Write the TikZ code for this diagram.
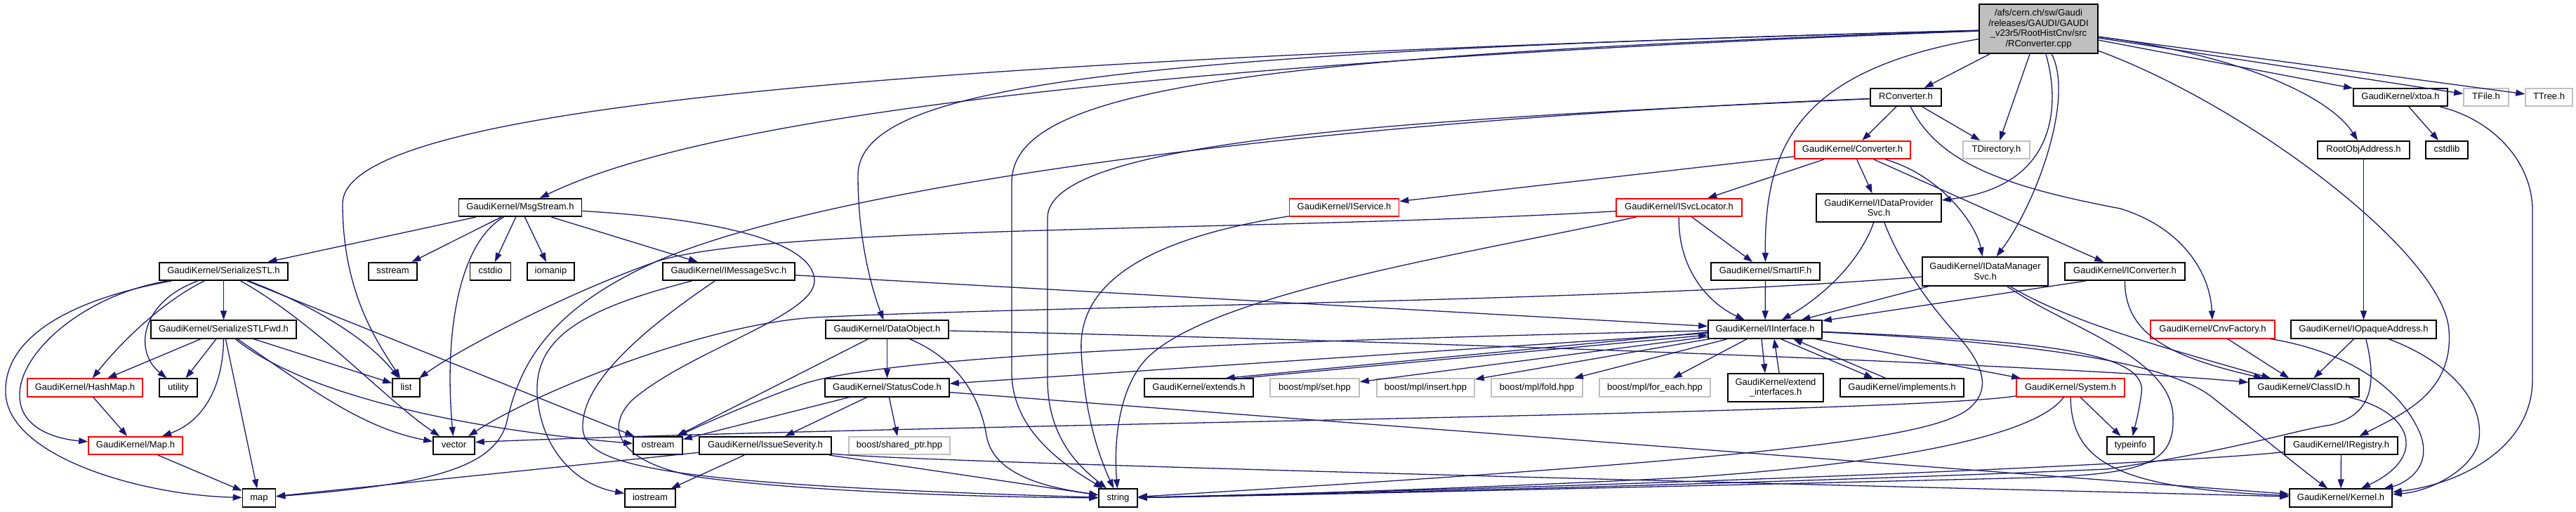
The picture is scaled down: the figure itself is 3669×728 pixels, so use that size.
\documentclass[tikz,border=0pt]{standalone}
\usepackage{fontspec}
\setmainfont{Liberation Sans}
\usetikzlibrary{arrows.meta}
\definecolor{edgecol}{RGB}{25,25,112}
\definecolor{gbord}{RGB}{191,191,191}
\definecolor{topfill}{RGB}{191,191,191}
\newcommand\nfs{\fontsize{13pt}{14.5pt}\selectfont}
\tikzset{
  base/.style={draw=black, line width=1.6pt, fill=white, inner sep=0pt, font=\nfs, text=black},
  nd/.style={base, minimum height=25.5pt, text height=9.4pt, text depth=3pt},
  ndm/.style={base, align=center},
  rd/.style={nd, draw=red},
  gd/.style={nd, draw=gbord},
  wd/.style={minimum width=#1pt},
  edg/.style={draw=edgecol, line width=1.3pt, -{Triangle[length=13pt,width=9pt]}},
}
\begin{document}
\begin{tikzpicture}[x=1pt,y=-1pt]
\useasboundingbox (0,0) rectangle (3669,728);
% nodes
\node[ndm,wd=169,minimum height=70pt,fill=topfill] (T) at (2903.5,41) {/afs/cern.ch/sw/Gaudi\\/releases/GAUDI/GAUDI\\\_v23r5/RootHistCnv/src\\/RConverter.cpp};
\node[nd,wd=101] (RCh) at (2714.5,138.5) {RConverter.h};
\node[nd,wd=134] (xtoa) at (3419,138.5) {GaudiKernel/xtoa.h};
\node[gd,wd=64] (TFile) at (3541,138.5) {TFile.h};
\node[gd,wd=67] (TTree) at (3630.5,138.5) {TTree.h};
\node[rd,wd=165] (Conv) at (2638.5,213.5) {GaudiKernel/Converter.h};
\node[gd,wd=95] (TDir) at (2843.5,213.5) {TDirectory.h};
\node[nd,wd=131] (RootObj) at (3366.5,213.5) {RootObjAddress.h};
\node[nd,wd=60] (cstdlib) at (3485,213.5) {cstdlib};
\node[nd,wd=175] (MsgStream) at (741,295.5) {GaudiKernel/MsgStream.h};
\node[rd,wd=156] (IService) at (1914.5,295.5) {GaudiKernel/IService.h};
\node[rd,wd=179] (ISvcLoc) at (2391.5,295.5) {GaudiKernel/ISvcLocator.h};
\node[ndm,wd=178,minimum height=40pt] (IDPS) at (2676,296) {GaudiKernel/IDataProvider\\Svc.h};
\node[nd,wd=183] (SerSTL) at (318.5,386.5) {GaudiKernel/SerializeSTL.h};
\node[nd,wd=69] (sstream) at (559.5,386.5) {sstream};
\node[nd,wd=58] (cstdio) at (698.5,386.5) {cstdio};
\node[nd,wd=67] (iomanip) at (784.5,386.5) {iomanip};
\node[nd,wd=188] (IMsgSvc) at (1038,386.5) {GaudiKernel/IMessageSvc.h};
\node[nd,wd=155] (SmartIF) at (2514.5,386.5) {GaudiKernel/SmartIF.h};
\node[ndm,wd=179,minimum height=41pt] (IDMS) at (2827.5,386.5) {GaudiKernel/IDataManager\\Svc.h};
\node[nd,wd=171] (IConv) at (3026.5,386.5) {GaudiKernel/IConverter.h};
\node[nd,wd=207] (SerFwd) at (318.5,469) {GaudiKernel/SerializeSTLFwd.h};
\node[nd,wd=175] (DataObj) at (1263.5,469) {GaudiKernel/DataObject.h};
\node[nd,wd=162] (IInterface) at (2514,469) {GaudiKernel/IInterface.h};
\node[rd,wd=177] (CnvFactory) at (3151.5,469) {GaudiKernel/CnvFactory.h};
\node[nd,wd=207] (IOpaque) at (3366.5,469) {GaudiKernel/IOpaqueAddress.h};
\node[rd,wd=164] (HashMap) at (121,552) {GaudiKernel/HashMap.h};
\node[nd,wd=54] (utility) at (254,552) {utility};
\node[nd,wd=39] (list) at (578.5,552) {list};
\node[nd,wd=177] (StatusCode) at (1263.5,552) {GaudiKernel/StatusCode.h};
\node[nd,wd=155] (extends) at (1707.5,552) {GaudiKernel/extends.h};
\node[gd,wd=127] (mplset) at (1872.5,552) {boost/mpl/set.hpp};
\node[gd,wd=139] (mplinsert) at (2030.5,552) {boost/mpl/insert.hpp};
\node[gd,wd=130] (mplfold) at (2189,552) {boost/mpl/fold.hpp};
\node[gd,wd=158] (mplfor) at (2357,552) {boost/mpl/for\_each.hpp};
\node[ndm,wd=136,minimum height=40pt] (extif) at (2529,552) {GaudiKernel/extend\\\_interfaces.h};
\node[nd,wd=176] (implements) at (2709,552) {GaudiKernel/implements.h};
\node[rd,wd=154] (System) at (2949,552) {GaudiKernel/System.h};
\node[nd,wd=157] (ClassID) at (3281.5,552) {GaudiKernel/ClassID.h};
\node[rd,wd=134] (MapH) at (193,634.5) {GaudiKernel/Map.h};
\node[nd,wd=59] (vector) at (646.5,634.5) {vector};
\node[nd,wd=70] (ostream) at (937,634.5) {ostream};
\node[nd,wd=188] (IssueSev) at (1090,634.5) {GaudiKernel/IssueSeverity.h};
\node[gd,wd=144] (sharedptr) at (1281,634.5) {boost/shared\_ptr.hpp};
\node[nd,wd=67] (typeinfo) at (3034.5,634.5) {typeinfo};
\node[nd,wd=161] (IRegistry) at (3334.5,634.5) {GaudiKernel/IRegistry.h};
\node[nd,wd=47] (map) at (369,709) {map};
\node[nd,wd=72] (iostream) at (926,709) {iostream};
\node[nd,wd=55] (string) at (1592.5,709) {string};
\node[nd,wd=146] (Kernel) at (3334,709) {GaudiKernel/Kernel.h};
% edges from top node
\draw[edg] (T) -- (RCh);
\draw[edg] (T) -- (TDir);
\draw[edg] (T) .. controls (2935,150) and (2930,265) .. (IDPS);
\draw[edg] (T) .. controls (2955,140) and (2900,290) .. (IDMS);
\draw[edg] (T) .. controls (2560,100) and (2513,210) .. (SmartIF);
\draw[edg] (T) -- (xtoa);
\draw[edg] (T) -- (TFile);
\draw[edg] (T) -- (TTree);
\draw[edg] (T) .. controls (3200,80) and (3320,140) .. (RootObj);
\draw[edg] (T) .. controls (3200,150) and (3480,360) .. (3488,470) .. controls (3495,560) and (3420,590) .. (IRegistry);
\draw[edg] (T) .. controls (1600,90) and (1000,170) .. (MsgStream);
\draw[edg] (T) .. controls (1300,85) and (488,150) .. (488,290) .. controls (488,420) and (540,490) .. (list);
\draw[edg] (T) .. controls (1600,75) and (1222,120) .. (1222,250) .. controls (1222,350) and (1245,420) .. (DataObj);
\draw[edg] (T) .. controls (1750,80) and (1441,130) .. (1441,260) -- (1441,530) .. controls (1441,620) and (1530,670) .. (string);
% RConverter.h
\draw[edg] (RCh) -- (Conv);
\draw[edg] (RCh) -- (TDir);
\draw[edg] (RCh) .. controls (2760,230) and (2850,265) .. (3020,297) .. controls (3110,325) and (3148,390) .. (CnvFactory);
\draw[edg] (RCh) .. controls (2000,170) and (1492,200) .. (1492,310) -- (1492,540) .. controls (1492,630) and (1545,670) .. (string);
\draw[edg] (RCh) .. controls (1900,170) and (1200,260) .. (940,370) .. controls (780,440) and (740,520) .. (722,600) .. controls (705,670) and (600,690) .. (map);
% Converter.h
\draw[edg] (Conv) -- (IService);
\draw[edg] (Conv) -- (ISvcLoc);
\draw[edg] (Conv) -- (IDPS);
\draw[edg] (Conv) .. controls (2765,250) and (2815,320) .. (IDMS);
\draw[edg] (Conv) -- (IConv);
% ISvcLocator.h
\draw[edg] (ISvcLoc) -- (SmartIF);
\draw[edg] (ISvcLoc) .. controls (2390,380) and (2430,430) .. (IInterface);
\draw[edg] (ISvcLoc) .. controls (2100,360) and (1700,420) .. (1625,520) .. controls (1590,567) and (1587,640) .. (string);
\draw[edg] (ISvcLoc) .. controls (1800,330) and (1100,320) .. (936,372) .. controls (800,420) and (650,500) .. (list);
% IService.h
\draw[edg] (IService) .. controls (1600,345) and (1536,420) .. (1540,500) .. controls (1545,600) and (1570,660) .. (string);
% IDataProviderSvc.h
\draw[edg] (IDPS) .. controls (2650,370) and (2600,420) .. (IInterface);
\draw[edg] (IDPS) .. controls (2700,360) and (2735,420) .. (2790,480) .. controls (2830,525) and (2835,560) .. (2800,585) .. controls (2740,625) and (2500,655) .. (string);
% SmartIF.h
\draw[edg] (SmartIF) -- (IInterface);
% IDataManagerSvc.h
\draw[edg] (IDMS) -- (IInterface);
\draw[edg] (IDMS) .. controls (2300,430) and (1500,435) .. (1160,452) .. controls (1000,462) and (760,560) .. (vector);
\draw[edg] (IDMS) .. controls (2950,460) and (3100,500) .. (ClassID);
\draw[edg] (IDMS) .. controls (2950,470) and (3100,510) .. (3095,600) .. controls (3095,660) and (3050,675) .. (2900,680) .. controls (2500,690) and (1800,706) .. (string);
% IConverter.h
\draw[edg] ([xshift=30pt]IConv.south west) -- (IInterface);
\draw[edg] (IConv) .. controls (3026,480) and (3100,510) .. (ClassID);
% IMessageSvc.h
\draw[edg] (IMsgSvc) -- (IInterface);
\draw[edg] (IMsgSvc) .. controls (830,440) and (762,480) .. (765,560) .. controls (770,640) and (820,690) .. (iostream);
\draw[edg] (IMsgSvc) .. controls (930,460) and (827,540) .. (830,610) .. controls (833,665) and (950,690) .. (string);
% MsgStream.h
\draw[edg] (MsgStream) -- (SerSTL);
\draw[edg] (MsgStream) -- (sstream);
\draw[edg] (MsgStream) -- (cstdio);
\draw[edg] (MsgStream) -- (iomanip);
\draw[edg] (MsgStream) -- (IMsgSvc);
\draw[edg] (MsgStream) .. controls (655,345) and (632,470) .. (vector);
\draw[edg] (MsgStream) .. controls (1000,310) and (1160,340) .. (1160,400) .. controls (1160,450) and (980,500) .. (900,570) .. controls (860,610) and (880,660) .. (1000,680) .. controls (1150,700) and (1400,708) .. (string);
% SerializeSTL.h
\draw[edg] (SerSTL) -- (SerFwd);
\draw[edg] (SerSTL) .. controls (80,430) and (5,490) .. (8,560) .. controls (12,650) and (200,705) .. (map);
\draw[edg] (SerSTL) .. controls (120,420) and (30,500) .. (28,560) .. controls (26,610) and (80,625) .. (MapH);
\draw[edg] (SerSTL) .. controls (230,430) and (170,490) .. (HashMap);
\draw[edg] (SerSTL) .. controls (200,430) and (190,500) .. (utility);
\draw[edg] (SerSTL) .. controls (460,440) and (530,490) .. (list);
\draw[edg] (SerSTL) .. controls (450,460) and (550,570) .. (vector);
\draw[edg] (SerSTL) -- (ostream);
% SerializeSTLFwd.h
\draw[edg] (SerFwd) -- (HashMap);
\draw[edg] (SerFwd) -- (utility);
\draw[edg] (SerFwd) .. controls (318,550) and (290,600) .. (MapH);
\draw[edg] (SerFwd) -- (map);
\draw[edg] (SerFwd) -- (list);
\draw[edg] (SerFwd) .. controls (450,560) and (520,610) .. (vector);
\draw[edg] (SerFwd) .. controls (430,560) and (650,610) .. (ostream);
\draw[edg] (HashMap) -- (MapH);
\draw[edg] (MapH) -- (map);
% DataObject.h
\draw[edg] (DataObj) -- (StatusCode);
\draw[edg] (DataObj) .. controls (1360,510) and (1395,560) .. (1405,620) .. controls (1415,680) and (1500,695) .. (string);
\draw[edg] (DataObj) -- (ostream);
\draw[edg] (DataObj) .. controls (2200,490) and (3000,525) .. (ClassID);
% StatusCode.h
\draw[edg] (StatusCode) -- (IssueSev);
\draw[edg] (StatusCode) -- (sharedptr);
\draw[edg] (StatusCode) -- (ostream);
\draw[edg] (StatusCode) -- (Kernel);
% IssueSeverity.h
\draw[edg] (IssueSev) -- (map);
\draw[edg] (IssueSev) -- (iostream);
\draw[edg] (IssueSev) -- (string);
\draw[edg] (IssueSev) .. controls (1300,660) and (3000,700) .. (Kernel);
% System.h
\draw[edg] (System) -- (typeinfo);
\draw[edg] (System) .. controls (2700,590) and (1300,604) .. ([yshift=5pt]vector.east);
\draw[edg] (System) .. controls (2900,620) and (2700,660) .. (2400,680) .. controls (2000,700) and (1700,707) .. (string);
\draw[edg] (System) .. controls (2950,660) and (3020,695) .. (Kernel);
% IInterface.h
\draw[edg] (IInterface) -- (StatusCode);
\draw[edg] ([yshift=-4pt]IInterface.west) -- ([xshift=38pt]extends.north);
\draw[edg] ([xshift=60pt]extends.north) -- ([yshift=-8pt]IInterface.west);
\draw[edg] (IInterface) -- (mplset);
\draw[edg] (IInterface) -- (mplinsert);
\draw[edg] (IInterface) -- (mplfold);
\draw[edg] (IInterface) -- (mplfor);
\draw[edg] ([xshift=-5pt]IInterface.south) -- ([xshift=-15pt]extif.north);
\draw[edg] ([xshift=5pt]extif.north) -- ([xshift=13pt]IInterface.south);
\draw[edg] ([xshift=22pt]IInterface.south) -- ([xshift=-41pt]implements.north);
\draw[edg] ([xshift=-23pt]implements.north) -- ([xshift=40pt]IInterface.south);
\draw[edg] (IInterface) -- (System);
\draw[edg] (IInterface) .. controls (2900,485) and (3060,500) .. (3050,560) .. controls (3046,590) and (3040,610) .. (typeinfo);
\draw[edg] (IInterface) .. controls (2850,485) and (3080,510) .. (3150,565) .. controls (3220,620) and (3280,670) .. (Kernel);
\draw[edg] (IInterface) .. controls (1800,485) and (1260,505) .. (1140,548) .. controls (1080,570) and (1010,600) .. (ostream);
% right part
\draw[edg] (CnvFactory) -- (ClassID);
\draw[edg] (CnvFactory) .. controls (3340,500) and (3420,550) .. (3448,620) .. controls (3465,670) and (3420,690) .. (Kernel);
\draw[edg] (IOpaque) -- (ClassID);
\draw[edg] (IOpaque) .. controls (3500,520) and (3540,580) .. (3530,630) .. controls (3520,670) and (3460,700) .. (Kernel);
\draw[edg] (IOpaque) .. controls (3385,545) and (3380,590) .. (3320,605) .. controls (3270,612) and (3190,640) .. (3000,668) .. controls (2500,690) and (1800,705) .. (string);
\draw[edg] (ClassID) .. controls (3435,585) and (3460,650) .. (Kernel);
\draw[edg] (IRegistry) -- (Kernel);
\draw[edg] (IRegistry) .. controls (3150,655) and (2600,685) .. (string);
\draw[edg] (xtoa) -- (cstdlib);
\draw[edg] (xtoa) .. controls (3550,170) and (3607,230) .. (3607,300) -- (3607,540) .. controls (3607,640) and (3500,690) .. (Kernel);
\draw[edg] (RootObj) -- (IOpaque);
\end{tikzpicture}
\end{document}
